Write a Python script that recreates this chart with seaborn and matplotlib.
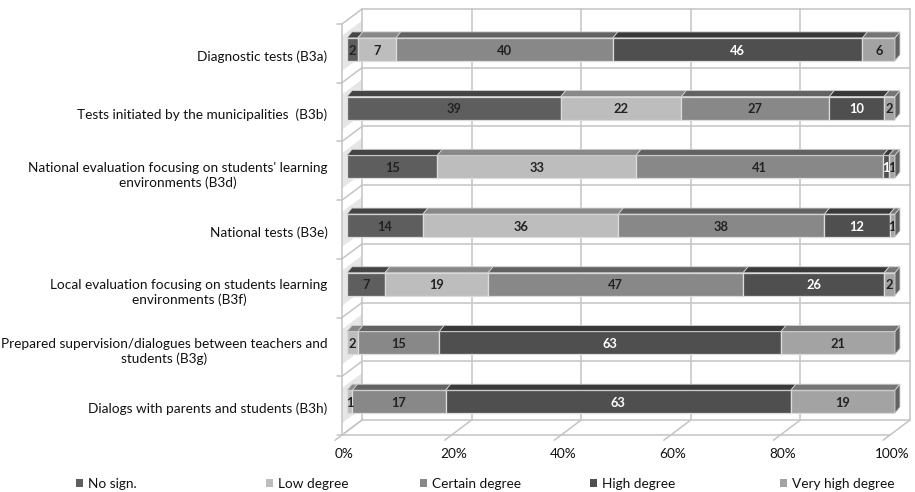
import numpy as np
import pandas as pd
import matplotlib
matplotlib.use("Agg")
import matplotlib.pyplot as plt
import matplotlib.transforms as mtransforms
from matplotlib.patches import Polygon, Patch
from matplotlib.lines import Line2D
import seaborn as sns

# ---- data -------------------------------------------------------------
categories = [
    "Diagnostic tests (B3a)",
    "Tests initiated by the municipalities  (B3b)",
    "National evaluation focusing on students' learning\nenvironments (B3d)",
    "National tests (B3e)",
    "Local evaluation focusing on students learning\nenvironments (B3f)",
    "Prepared supervision/dialogues between teachers and\nstudents (B3g)",
    "Dialogs with parents and students (B3h)",
]
levels = ["No sign.", "Low degree", "Certain degree", "High degree", "Very high degree"]
no_sign = [2, 39, 15, 14, 7, 0, 0]
low_degree = [7, 22, 33, 36, 19, 2, 1]
certain_degree = [40, 27, 41, 38, 47, 15, 17]
high_degree = [46, 10, 1, 12, 26, 63, 63]
very_high_degree = [6, 2, 1, 1, 2, 21, 19]
tick_values = [0, 20, 40, 60, 80, 100]
tick_labels = ["0%", "20%", "40%", "60%", "80%", "100%"]

colors = ["#5e5e5e", "#bdbdbd", "#888888", "#4f4f4f", "#a3a3a3"]
label_colors = ["#222222", "#222222", "#222222", "#ffffff", "#222222"]

series = [no_sign, low_degree, certain_degree, high_degree, very_high_degree]
counts = np.array(series, dtype=float)
totals = counts.sum(axis=0)
shares = counts / totals * 100.0

sns.set_style("white")
plt.rcParams["font.family"] = ["Lato", "DejaVu Sans"]
TEXT = "#111111"
FS = 9.8

W, H, DPI = 915, 492, 100
fig = plt.figure(figsize=(W / DPI, H / DPI), dpi=DPI)
ax = fig.add_axes([347 / W, (H - 431) / H, 548 / W, 411 / H])
ax.patch.set_alpha(0)

# ---- stacked bars (front faces) ---------------------------------------
containers = []
left = np.zeros(len(categories))
for i, name in enumerate(levels):
    df = pd.DataFrame({"category": categories, "share": shares[i]})
    sns.barplot(data=df, x="share", y="category", orient="h", left=left,
                color=colors[i], saturation=1, width=0.39, errorbar=None,
                edgecolor="#dcdcdc", linewidth=0.9, ax=ax, zorder=3)
    containers.append(ax.containers[-1])
    left = left + shares[i]

ax.set_xlim(0, 100)
ax.set_ylim(len(categories) - 0.5, -0.5)
for s in ax.spines.values():
    s.set_visible(False)
ax.set_xlabel("")
ax.set_ylabel("")
ax.set_xticks([])

# category labels
ax.set_yticks(range(len(categories)))
ax.set_yticklabels(categories, fontsize=FS, color=TEXT)
ax.tick_params(axis="y", length=0, pad=14)
shift = mtransforms.ScaledTranslation(0, -6 / DPI, fig.dpi_scale_trans)
for lab in ax.get_yticklabels():
    lab.set_multialignment("center")
    lab.set_linespacing(1.25)
    lab.set_transform(lab.get_transform() + shift)

# ---- pseudo-3D geometry (in pixels) ------------------------------------
ident = mtransforms.IdentityTransform()
BACK = (15, 11)     # back wall offset relative to bar plane
FRONT = (-5, -4)    # front edge offset relative to bar plane
DEPTH = (5, 6)      # bar depth


def px(x, y, off=(0, 0)):
    p = ax.transData.transform((x, y))
    return p[0] + off[0], p[1] + off[1]


grid_kw = dict(color="#c4c4c4", lw=1.1, transform=ident, zorder=-2)
y_top, y_bot = -0.5, len(categories) - 0.5

# soft shading on the left wall beside each bar
for j in range(len(categories)):
    a = px(0, j - 0.3, FRONT)
    b = px(0, j + 0.3, FRONT)
    c = px(0, j + 0.3, BACK)
    d = px(0, j - 0.3, BACK)
    fig.add_artist(Polygon([a, b, c, d], closed=True, transform=ident,
                           facecolor="#e6e6e6", edgecolor="none", zorder=-3))
# back wall: vertical gridlines
for v in tick_values:
    a = px(v, y_top, BACK)
    b = px(v, y_bot, BACK)
    fig.add_artist(Line2D([a[0], b[0]], [a[1], b[1]], **grid_kw))
# back wall: row boundaries, left wall slants and ticks
for k in range(len(categories) + 1):
    yy = k - 0.5
    a = px(0, yy, BACK)
    b = px(100, yy, BACK)
    fig.add_artist(Line2D([a[0], b[0]], [a[1], b[1]], **grid_kw))
    f = px(0, yy, FRONT)
    fig.add_artist(Line2D([f[0], a[0]], [f[1], a[1]], **grid_kw))
    fig.add_artist(Line2D([f[0] - 5, f[0]], [f[1], f[1]], **grid_kw))
# left wall front edge
a = px(0, y_top, FRONT)
b = px(0, y_bot, FRONT)
fig.add_artist(Line2D([a[0], b[0]], [a[1], b[1]], **grid_kw))
# floor: front edge and depth lines at ticks, tick labels
a = px(0, y_bot, FRONT)
b = px(100, y_bot, FRONT)
fig.add_artist(Line2D([a[0], b[0]], [a[1], b[1]], **grid_kw))
for v, t in zip(tick_values, tick_labels):
    f = px(v, y_bot, FRONT)
    k = px(v, y_bot, BACK)
    dx, dy = k[0] - f[0], k[1] - f[1]
    fig.add_artist(Line2D([f[0] - 0.35 * dx, k[0]], [f[1] - 0.35 * dy, k[1]], **grid_kw))
    fig.text((f[0] + 2) / W, (f[1] - 19) / H, t, ha="center", va="center",
             fontsize=FS, color=TEXT)


def shade(c, f):
    r, g, b = matplotlib.colors.to_rgb(c)
    return (r * f, g * f, b * f)


# top and side faces of each bar segment, plus value labels
for i, cont in enumerate(containers):
    for j, p in enumerate(cont.patches):
        w = p.get_width()
        if w <= 0:
            continue
        x0, y0 = p.get_x(), p.get_y()
        x1, y1 = x0 + w, y0 + p.get_height()
        tl = px(x0, y0)
        tr = px(x1, y0)
        top = [tl, tr, (tr[0] + DEPTH[0], tr[1] + DEPTH[1]),
               (tl[0] + DEPTH[0], tl[1] + DEPTH[1])]
        fig.add_artist(Polygon(top, closed=True, transform=ident,
                               facecolor=shade(colors[i], 0.72),
                               edgecolor="#d0d0d0", lw=0.6, zorder=2))
        last = all(shares[k][j] <= 0 for k in range(i + 1, len(levels)))
        if last:
            br = px(x1, y1)
            side = [tr, br, (br[0] + DEPTH[0], br[1] + DEPTH[1]),
                    (tr[0] + DEPTH[0], tr[1] + DEPTH[1])]
            fig.add_artist(Polygon(side, closed=True, transform=ident,
                                   facecolor=shade(colors[i], 0.6),
                                   edgecolor="#d0d0d0", lw=0.6, zorder=2))
        ax.text(x0 + w / 2, y0 + p.get_height() / 2 + 0.02, str(int(counts[i][j])),
                ha="center", va="center", fontsize=9.3, fontweight="bold",
                color=label_colors[i], zorder=5)

# ---- legend ------------------------------------------------------------
legend_x = [76, 266, 420, 590, 780]
for name, c, lx in zip(levels, colors, legend_x):
    fig.legend(handles=[Patch(facecolor=c, edgecolor="none")], labels=[name],
               loc="center left", bbox_to_anchor=(lx / W, 1 - 484 / H),
               frameon=False, fontsize=FS, handlelength=0.5, handleheight=0.5,
               handletextpad=0.35, borderpad=0, borderaxespad=0,
               labelcolor=TEXT)

fig.savefig("out.png", dpi=DPI)
